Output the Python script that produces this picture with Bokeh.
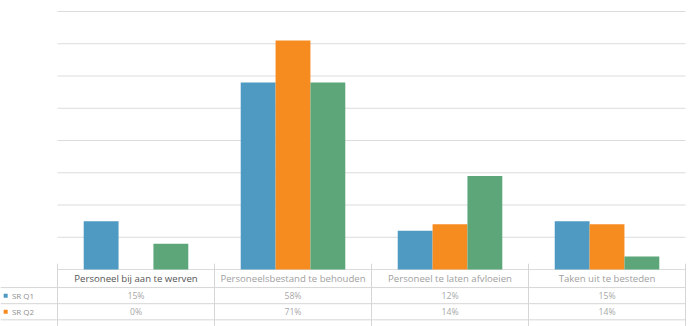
from bokeh.plotting import figure
from bokeh.models import ColumnDataSource, Range1d
from bokeh.transform import dodge
from bokeh.core.properties import value
from bokeh.embed import file_html
from bokeh.resources import INLINE

categories = ["Personeel bij aan te werven", "Personeelsbestand te behouden",
              "Personeel te laten afvloeien", "Taken uit te besteden"]
series = ["SR Q1", "SR Q2", "SR Q3"]
q1 = [15, 58, 12, 15]
q2 = [0, 71, 14, 14]
q3 = [8, 58, 29, 4]
q1_labels = ["15%", "58%", "12%", "15%"]
q2_labels = ["0%", "71%", "14%", "14%"]
y_ticks = [0, 10, 20, 30, 40, 50, 60, 70, 80]

colors = ["#4e9ac2", "#f68b1f", "#5ca67a"]
FONT = "Open Sans"

xc = [i + 0.5 for i in range(len(categories))]
src = ColumnDataSource(dict(x=xc, q1=q1, q2=q2, q3=q3, cat=categories,
                            l1=q1_labels, l2=q2_labels))

p = figure(width=688, height=326, output_backend="svg", toolbar_location=None,
           x_range=Range1d(-0.363, 4.019), y_range=Range1d(-17.67, 83.41),
           min_border=0, outline_line_color=None, background_fill_color="white")
p.axis.visible = False
p.grid.visible = False

# gridlines
n = len(categories)
p.segment(x0=[0] * len(y_ticks), x1=[n] * len(y_ticks), y0=y_ticks, y1=y_ticks,
          line_color="#dcdcdc", line_width=1)

bw = 0.222
for key, off, c in zip(["q1", "q2", "q3"], [-bw, 0, bw], colors):
    p.vbar(x=dodge("x", off, range=p.x_range), top=key, width=bw, source=src,
           fill_color=c, line_color=None)

# table
row_lines = [-5.6, -10.6, -15.6]
p.segment(x0=[-0.363] * 3, x1=[n] * 3, y0=row_lines, y1=row_lines,
          line_color="#d6d6d6", line_width=1)
bounds = list(range(n + 1))
p.segment(x0=bounds, x1=bounds, y0=[1.8] * len(bounds), y1=[-17.67] * len(bounds),
          line_color="#d6d6d6", line_width=1)

hdr_colors = ["#555555", "#a0a0a0", "#a0a0a0", "#a0a0a0"]
p.text(x=xc, y=[-2.8] * n, text=categories, text_align="center", text_baseline="middle",
       text_font=value(FONT), text_font_size="7.2pt", text_color=hdr_colors)
p.text(x="x", y=-8.1, text="l1", source=src, text_align="center", text_baseline="middle",
       text_font=value(FONT), text_font_size="6.5pt", text_color="#a8a8a8")
p.text(x="x", y=-13.1, text="l2", source=src, text_align="center", text_baseline="middle",
       text_font=value(FONT), text_font_size="6.5pt", text_color="#a8a8a8")

# legend keys in table
p.scatter(x=[-0.33, -0.33], y=[-8.1, -13.1], marker="square", size=4,
          fill_color=colors[:2], line_color=None)
p.text(x=[-0.29, -0.29], y=[-8.1, -13.1], text=series[:2], text_align="left",
       text_baseline="middle", text_font=value(FONT), text_font_size="6pt",
       text_color="#909090")

open("out.html", "w").write(file_html(p, INLINE))
